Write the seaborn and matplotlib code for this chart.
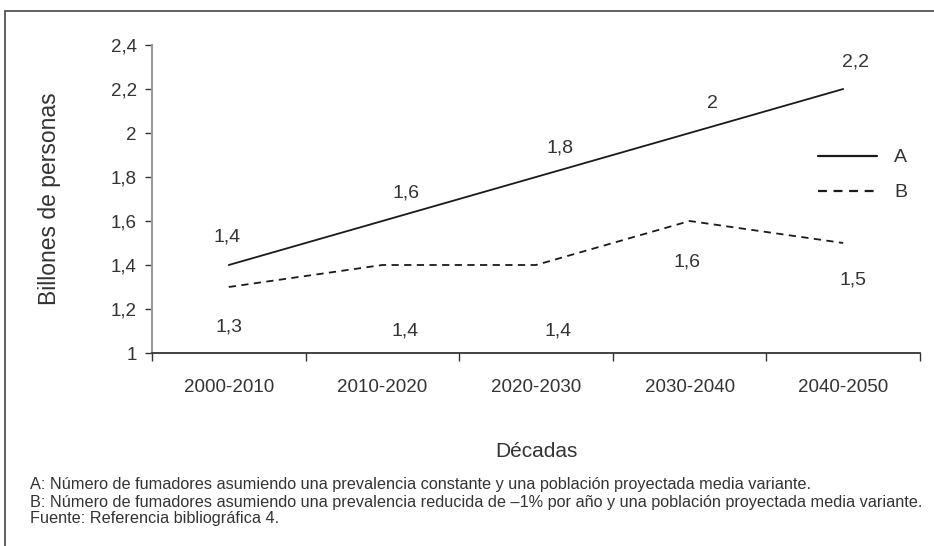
import pandas as pd
import matplotlib.pyplot as plt
import seaborn as sns
from matplotlib.lines import Line2D

# datos
decadas = ["2000-2010", "2010-2020", "2020-2030", "2030-2040", "2040-2050"]
serie_a = [1.4, 1.6, 1.8, 2.0, 2.2]
serie_b = [1.3, 1.4, 1.4, 1.6, 1.5]
etiq_a = ["1,4", "1,6", "1,8", "2", "2,2"]
etiq_b = ["1,3", "1,4", "1,4", "1,6", "1,5"]
yticks = [1, 1.2, 1.4, 1.6, 1.8, 2, 2.2, 2.4]
ytick_labels = ["1", "1,2", "1,4", "1,6", "1,8", "2", "2,2", "2,4"]

# desplazamiento de las etiquetas (px)
off_a = [(-2, 28), (24, 28), (24, 29), (23, 29), (12, 27)]
off_b = [(0, -40), (23, -66), (22, -66), (-3, -41), (10, -37)]

notas = [
    "A: Número de fumadores asumiendo una prevalencia constante y una población proyectada media variante.",
    "B: Número de fumadores asumiendo una prevalencia reducida de \u20131% por año y una población proyectada media variante.",
    "Fuente: Referencia bibliográfica 4.",
]

df = pd.DataFrame({
    "pos": list(range(len(decadas))) * 2,
    "valor": serie_a + serie_b,
    "serie": ["A"] * len(serie_a) + ["B"] * len(serie_b),
})

sns.set_style("white")
plt.rcParams["font.family"] = ["Liberation Sans", "DejaVu Sans"]

fig = plt.figure(figsize=(9.34, 5.46), dpi=100)
ax = fig.add_axes([152 / 934, 1 - 353 / 546, 768 / 934, 308 / 546])

sns.lineplot(data=df, x="pos", y="valor", hue="serie", style="serie",
             palette={"A": "#1a1a1a", "B": "#1a1a1a"},
             dashes={"A": "", "B": (4, 3)}, linewidth=1.3, ax=ax)

ax.set_xlim(-0.5, len(decadas) - 0.5)
ax.set_ylim(1, 2.4)
ax.set_yticks(yticks)
ax.set_yticklabels(ytick_labels, fontsize=13.5, color="#333333")
ax.set_xticks(range(len(decadas)))
ax.set_xticklabels(decadas, fontsize=13.5, color="#333333")
ax.set_xticks([i - 0.5 for i in range(len(decadas) + 1)], minor=True)
ax.tick_params(axis="x", which="major", length=0, pad=19)
ax.tick_params(axis="x", which="minor", length=6, width=1, color="#333333", direction="out")
ax.tick_params(axis="y", length=5, width=1, color="#333333", direction="out", pad=6)
ax.xaxis.set_ticks_position("bottom")
ax.yaxis.set_ticks_position("left")

for s in ["top", "right"]:
    ax.spines[s].set_visible(False)
ax.spines["left"].set_color("#999999")
ax.spines["left"].set_linewidth(1.5)
ax.spines["bottom"].set_color("#333333")
ax.spines["bottom"].set_linewidth(1.3)

ax.set_xlabel("Décadas", fontsize=15, color="#333333", labelpad=33)
ax.set_ylabel("Billones de personas", fontsize=16.5, color="#333333", labelpad=36)

for i, (v, t) in enumerate(zip(serie_a, etiq_a)):
    ax.annotate(t, (i, v), xytext=off_a[i], textcoords="offset pixels",
                ha="center", va="center", fontsize=14, color="#333333")
for i, (v, t) in enumerate(zip(serie_b, etiq_b)):
    ax.annotate(t, (i, v), xytext=off_b[i], textcoords="offset pixels",
                ha="center", va="center", fontsize=14, color="#333333")

handles = [Line2D([], [], color="#1a1a1a", lw=1.6),
           Line2D([], [], color="#1a1a1a", lw=1.6, dashes=(4, 3))]
leg = ax.legend(handles, ["A", "B"], loc="upper left", bbox_to_anchor=(0.845, 0.72),
                frameon=False, fontsize=14, handlelength=3.0, handletextpad=0.9,
                labelspacing=0.9)
for t in leg.get_texts():
    t.set_color("#333333")

# marco del grafico
fig.add_artist(Line2D([5 / 934, 1], [1 - 11 / 546] * 2, color="#555555", lw=1.3))
fig.add_artist(Line2D([5 / 934] * 2, [0, 1 - 11 / 546], color="#555555", lw=1.3))

for k, n in enumerate(notas):
    fig.text(30 / 934, 1 - (485 + 17 * k) / 546, n, fontsize=11.7, color="#333333",
             va="center", ha="left")

fig.savefig("out.png", dpi=100)
